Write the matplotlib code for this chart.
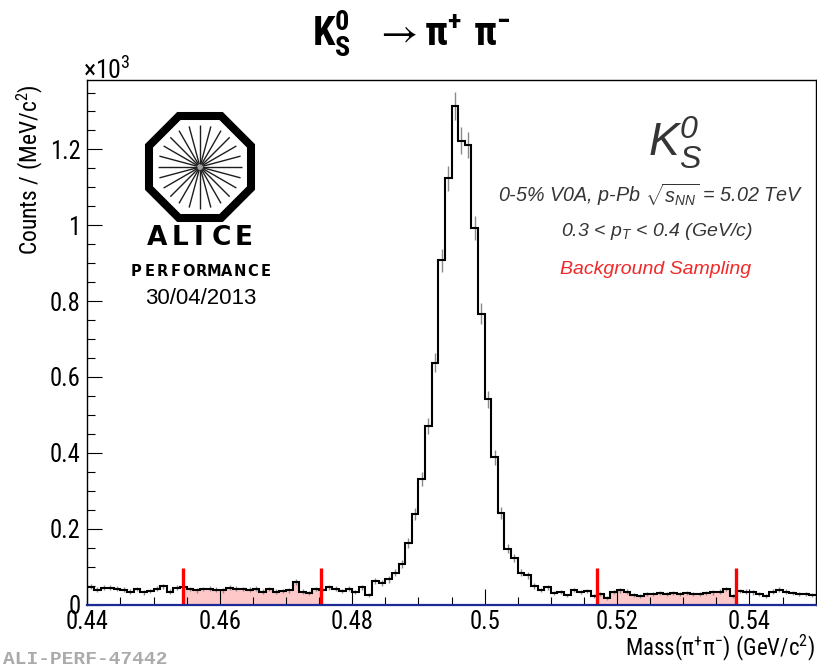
import numpy as np
import matplotlib
matplotlib.use("Agg")
import matplotlib.pyplot as plt
from matplotlib import font_manager
from matplotlib.patches import Polygon, Circle
from matplotlib.ticker import FixedLocator, MultipleLocator, FixedFormatter

# ---------------- data ----------------
mass_lo, mass_hi = 0.44, 0.55
bin_width = 0.001

# entries per 1 MeV/c^2 bin, from 0.440 to 0.550 GeV/c^2
counts = [
    47, 39, 44, 44, 42, 39, 34, 41, 32, 35,
    42, 48, 34, 44, 47, 41, 37, 41, 42, 39,
    37, 44, 42, 41, 39, 42, 34, 41, 34, 35,
    37, 60, 34, 30, 41, 38, 45, 42, 36, 42,
    33, 45, 26, 61, 57, 66, 84, 107, 162, 238,
    330, 471, 638, 908, 1124, 1315, 1223, 1212, 993, 766,
    541, 388, 241, 147, 123, 84, 77, 49, 38, 45,
    31, 33, 24, 38, 33, 36, 22, 28, 17, 33,
    37, 34, 25, 22, 27, 28, 30, 28, 30, 28,
    30, 27, 28, 30, 32, 34, 41, 23, 35, 34,
    32, 28, 23, 34, 39, 34, 30, 28, 27, 25,
]

# background sampling windows (GeV/c^2)
sideband_left = (0.4544, 0.4753)
sideband_right = (0.5170, 0.5380)
sideband_marker = 97  # counts

x_ticks = [0.44, 0.46, 0.48, 0.50, 0.52, 0.54]
x_tick_labels = ["0.44", "0.46", "0.48", "0.5", "0.52", "0.54"]
y_ticks = [0.0, 0.2, 0.4, 0.6, 0.8, 1.0, 1.2]
y_tick_labels = ["0", "0.2", "0.4", "0.6", "0.8", "1", "1.2"]
y_max = 1.383

# ---------------- fonts ----------------
SANS = "Liberation Sans"


def pick_condensed():
    names = {f.name: f for f in font_manager.fontManager.ttflist}
    for name in ("Liberation Sans Narrow", "Arial Narrow", "Roboto Condensed",
                 "Open Sans Condensed", "DejaVu Sans Condensed", "Noto Sans Condensed"):
        if name in names:
            return name, "normal"
    for f in font_manager.fontManager.ttflist:
        low = f.name.lower()
        if ("narrow" in low or "condensed" in low) and "mono" not in low \
                and "serif" not in low:
            return f.name, "normal"
    for f in font_manager.fontManager.ttflist:
        if f.name == "DejaVu Sans" and str(f.stretch) in ("condensed", "semi-condensed"):
            return "DejaVu Sans", "condensed"
    return SANS, "normal"


NARROW, NARROW_STRETCH = pick_condensed()

plt.rcParams["mathtext.fontset"] = "custom"
plt.rcParams["mathtext.rm"] = SANS
plt.rcParams["mathtext.it"] = SANS + ":italic"
plt.rcParams["mathtext.bf"] = SANS + ":bold"

W, H = 817, 668
fig = plt.figure(figsize=(W / 100, H / 100), dpi=100)
fig.patch.set_facecolor("white")
renderer = fig.canvas.get_renderer()


def fit_size(s, width_px, weight="normal", base=20.0, max_size=None):
    """Font size (pt) that gives string s the requested width in pixels."""
    t = fig.text(0, 0, s, fontsize=base, fontfamily=NARROW, fontstretch=NARROW_STRETCH,
                 fontweight=weight)
    w = t.get_window_extent(renderer).width
    t.remove()
    size = base * width_px / w
    if max_size is not None:
        size = min(size, max_size)
    return size


xlabel_str = r"Mass($\mathregular{\pi^{+}\pi^{-}}$) (GeV/$\mathregular{c^{2}}$)"
ylabel_str = r"Counts / (MeV/$\mathregular{c^{2}}$)"
title_str = r"$\mathregular{K^{0}_{S}\ \ \rightarrow \pi^{+}\ \pi^{-}}$"

tick_size = fit_size("0.46", 43.0, max_size=19.0)
xlabel_size = fit_size(xlabel_str, 190.0, max_size=19.0)
ylabel_size = fit_size(ylabel_str, 170.0, max_size=19.0)
title_size = fit_size(title_str, 200.0, weight="bold", max_size=30.0)

ax_l, ax_r, ax_t, ax_b = 87.3, 815.7, 80.0, 604.5
ax = fig.add_axes([ax_l / W, (H - ax_b) / H, (ax_r - ax_l) / W, (ax_b - ax_t) / H])

vals = np.asarray(counts, dtype=float) / 1000.0
edges = mass_lo + bin_width * np.arange(len(vals) + 1)
centers = 0.5 * (edges[:-1] + edges[1:])
errs = np.sqrt(np.asarray(counts, dtype=float)) / 1000.0


def window_fill(lo, hi):
    i0 = int(np.floor((lo - mass_lo) / bin_width))
    i1 = int(np.floor((hi - mass_lo) / bin_width - 1e-9))
    xs = [lo] + list(edges[i0 + 1:i1 + 1]) + [hi]
    ys = list(vals[i0:i1 + 1]) + [vals[i1]]
    return np.array(xs), np.array(ys)


for lo, hi in (sideband_left, sideband_right):
    xs, ys = window_fill(lo, hi)
    ax.fill_between(xs, 0, ys, step="post", color="#ffc8c8", lw=0, zorder=1)

ax.vlines(centers, vals - errs, vals + errs, color="#8a8a8a", lw=1.0, zorder=2)
ax.stairs(vals, edges, baseline=None, color="black", lw=1.5, zorder=3)

for lo, hi in (sideband_left, sideband_right):
    ax.vlines([lo, hi], 0, sideband_marker / 1000.0, color="#ff0000", lw=2.4, zorder=4)

ax.set_xlim(mass_lo, mass_hi)
ax.set_ylim(0, y_max)

ax.xaxis.set_major_locator(FixedLocator(x_ticks))
ax.xaxis.set_major_formatter(FixedFormatter(x_tick_labels))
ax.xaxis.set_minor_locator(MultipleLocator(0.005))
ax.yaxis.set_major_locator(FixedLocator(y_ticks))
ax.yaxis.set_major_formatter(FixedFormatter(y_tick_labels))
ax.yaxis.set_minor_locator(MultipleLocator(0.05))

ax.tick_params(axis="both", which="both", direction="in", top=False, right=False,
               width=0.8, color="black")
ax.tick_params(axis="x", which="major", length=11.5, pad=4)
ax.tick_params(axis="x", which="minor", length=5.5)
ax.tick_params(axis="y", which="major", length=11, pad=5)
ax.tick_params(axis="y", which="minor", length=5.5)
for lab in ax.get_xticklabels() + ax.get_yticklabels():
    lab.set_fontfamily(NARROW)
    lab.set_fontstretch(NARROW_STRETCH)
    lab.set_fontsize(tick_size)

for s in ("top", "right", "left"):
    ax.spines[s].set_color("black")
    ax.spines[s].set_linewidth(1.0)
ax.spines["bottom"].set_color("#1c2a96")
ax.spines["bottom"].set_linewidth(1.6)
ax.spines["bottom"].set_zorder(5)

# ---------------- overlay in pixel coordinates ----------------
ov = fig.add_axes([0, 0, 1, 1], zorder=10)
ov.set_xlim(0, W)
ov.set_ylim(H, 0)
ov.axis("off")
ov.patch.set_visible(False)

narrow_kw = dict(fontfamily=NARROW, fontstretch=NARROW_STRETCH, color="black")

# title
ov.text(411, 46, title_str, ha="center", va="baseline", fontsize=title_size,
        fontweight="bold", **narrow_kw)

# axis titles
ov.text(83, 70, r"$\mathregular{\times10^{3}}$", ha="left", va="center",
        fontsize=tick_size * 1.05, **narrow_kw)
ov.text(30, 84, ylabel_str, rotation=90, ha="center",
        va="top", fontsize=ylabel_size, **narrow_kw)
ov.text(815, 648, xlabel_str, ha="right", va="center", fontsize=xlabel_size, **narrow_kw)

# experiment logo
cx, cy = 200.0, 167.0
apothem = 51.0
R = apothem / np.cos(np.pi / 8)
ang = np.pi / 8 + np.arange(8) * np.pi / 4
octagon = np.c_[cx + R * np.cos(ang), cy + R * np.sin(ang)]
ov.add_patch(Polygon(octagon, closed=True, fill=False, ec="black", lw=5.8,
                     joinstyle="miter"))
for a in np.arange(24) * np.pi / 12:
    ov.plot([cx + 3 * np.cos(a), cx + 42 * np.cos(a)],
            [cy + 3 * np.sin(a), cy + 42 * np.sin(a)],
            color="#1e1e1e", lw=1.0, solid_capstyle="butt")
ov.add_patch(Circle((cx, cy), 4, color="#a0a0a0", lw=0))

for ch, x in zip("ALICE", [157, 180, 199, 221, 244]):
    ov.text(x, 238, ch, ha="center", va="center", fontsize=19,
            fontfamily="DejaVu Sans", fontweight="bold", color="black")
for i, ch in enumerate("PERFORMANCE"):
    ov.text(136.5 + 12.9 * i, 272, ch, ha="center", va="center", fontsize=10.5,
            fontfamily="DejaVu Sans", fontweight="bold", color="black")
ov.text(201, 299, "30/04/2013", ha="center", va="center", fontsize=16,
        fontfamily=SANS, color="black")

# annotations
txt_gray = "#353535"
ov.text(675, 143, r"$\mathregular{K^{0}_{S}}$", ha="center", va="center", fontsize=33,
        fontfamily=SANS, style="italic", color=txt_gray)
ov.text(651, 195, r"0-5% V0A, p-Pb $\mathregular{\sqrt{s_{NN}}}$ = 5.02 TeV",
        ha="center", va="center", fontsize=14.2, fontfamily=SANS, style="italic",
        color=txt_gray)
ov.text(657, 232, r"0.3 < $\mathregular{p_{T}}$ < 0.4 (GeV/c)", ha="center",
        va="center", fontsize=14, fontfamily=SANS, style="italic", color=txt_gray)
ov.text(656, 270, "Background Sampling", ha="center", va="center", fontsize=14,
        fontfamily=SANS, style="italic", color="#f02828")

ov.text(3, 659, "ALI-PERF-47442", ha="left", va="center", fontsize=14,
        fontfamily="Liberation Mono", fontweight="bold", color="#ababab")

fig.savefig("out.png", dpi=100, facecolor="white")
